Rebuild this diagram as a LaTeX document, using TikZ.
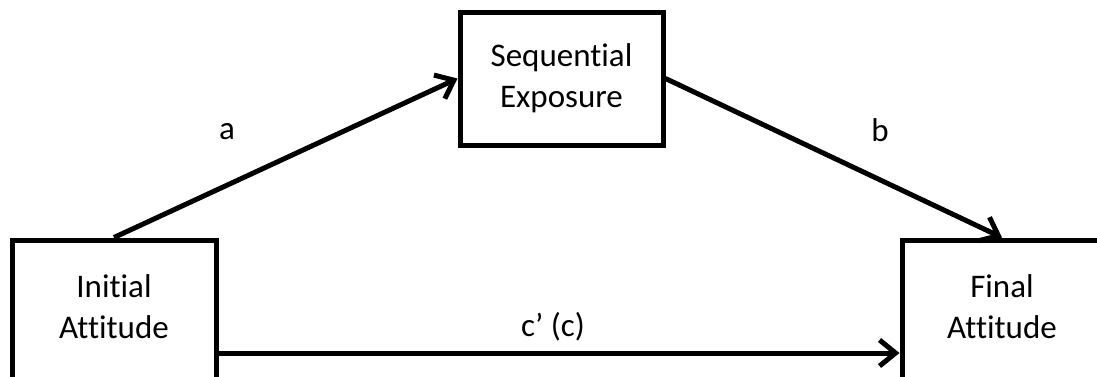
\documentclass[tikz,border=0pt]{standalone}
\usepackage{fontspec}
\setmainfont[Ligatures=NoCommon]{Carlito}
\usetikzlibrary{arrows.meta}
\begin{document}
\begin{tikzpicture}[x=1pt,y=-1pt,
  box/.style={draw,line width=5pt,align=center,inner sep=0pt,
    font=\fontsize{33}{41}\selectfont},
  conn/.style={line width=5pt,-{Straight Barb[length=16pt,width=26pt,line width=5pt]}},
  lbl/.style={font=\fontsize{33}{41}\selectfont,inner sep=0pt}]
\path[use as bounding box] (0,0) rectangle (1097,376);
\begin{scope}
\clip (0,0) rectangle (1097,376);
\node[box,minimum width=204pt,minimum height=142pt] (init) at (114,311) {Initial\\Attitude\rule[-9pt]{0pt}{0pt}};
\node[box,minimum width=203pt,minimum height=133pt] (seq) at (561.5,78.5) {Sequential\\Exposure};
\node[box,minimum width=200pt,minimum height=142pt] (fin) at (1002,311) {Final\\Attitude\rule[-9pt]{0pt}{0pt}};
\coordinate (h) at (0,353);
\draw[conn] (init.north) -- (seq.west);
\draw[conn] (seq.east) -- (fin.north);
\draw[conn] (init.east |- h) -- (fin.west |- h);
\node[lbl] (la) at (227,132) {a};
\node[lbl] (lb) at (880,130) {b};
\node[lbl] (lc) at (553,327) {c’ (c)};
\end{scope}
\end{tikzpicture}
\end{document}
